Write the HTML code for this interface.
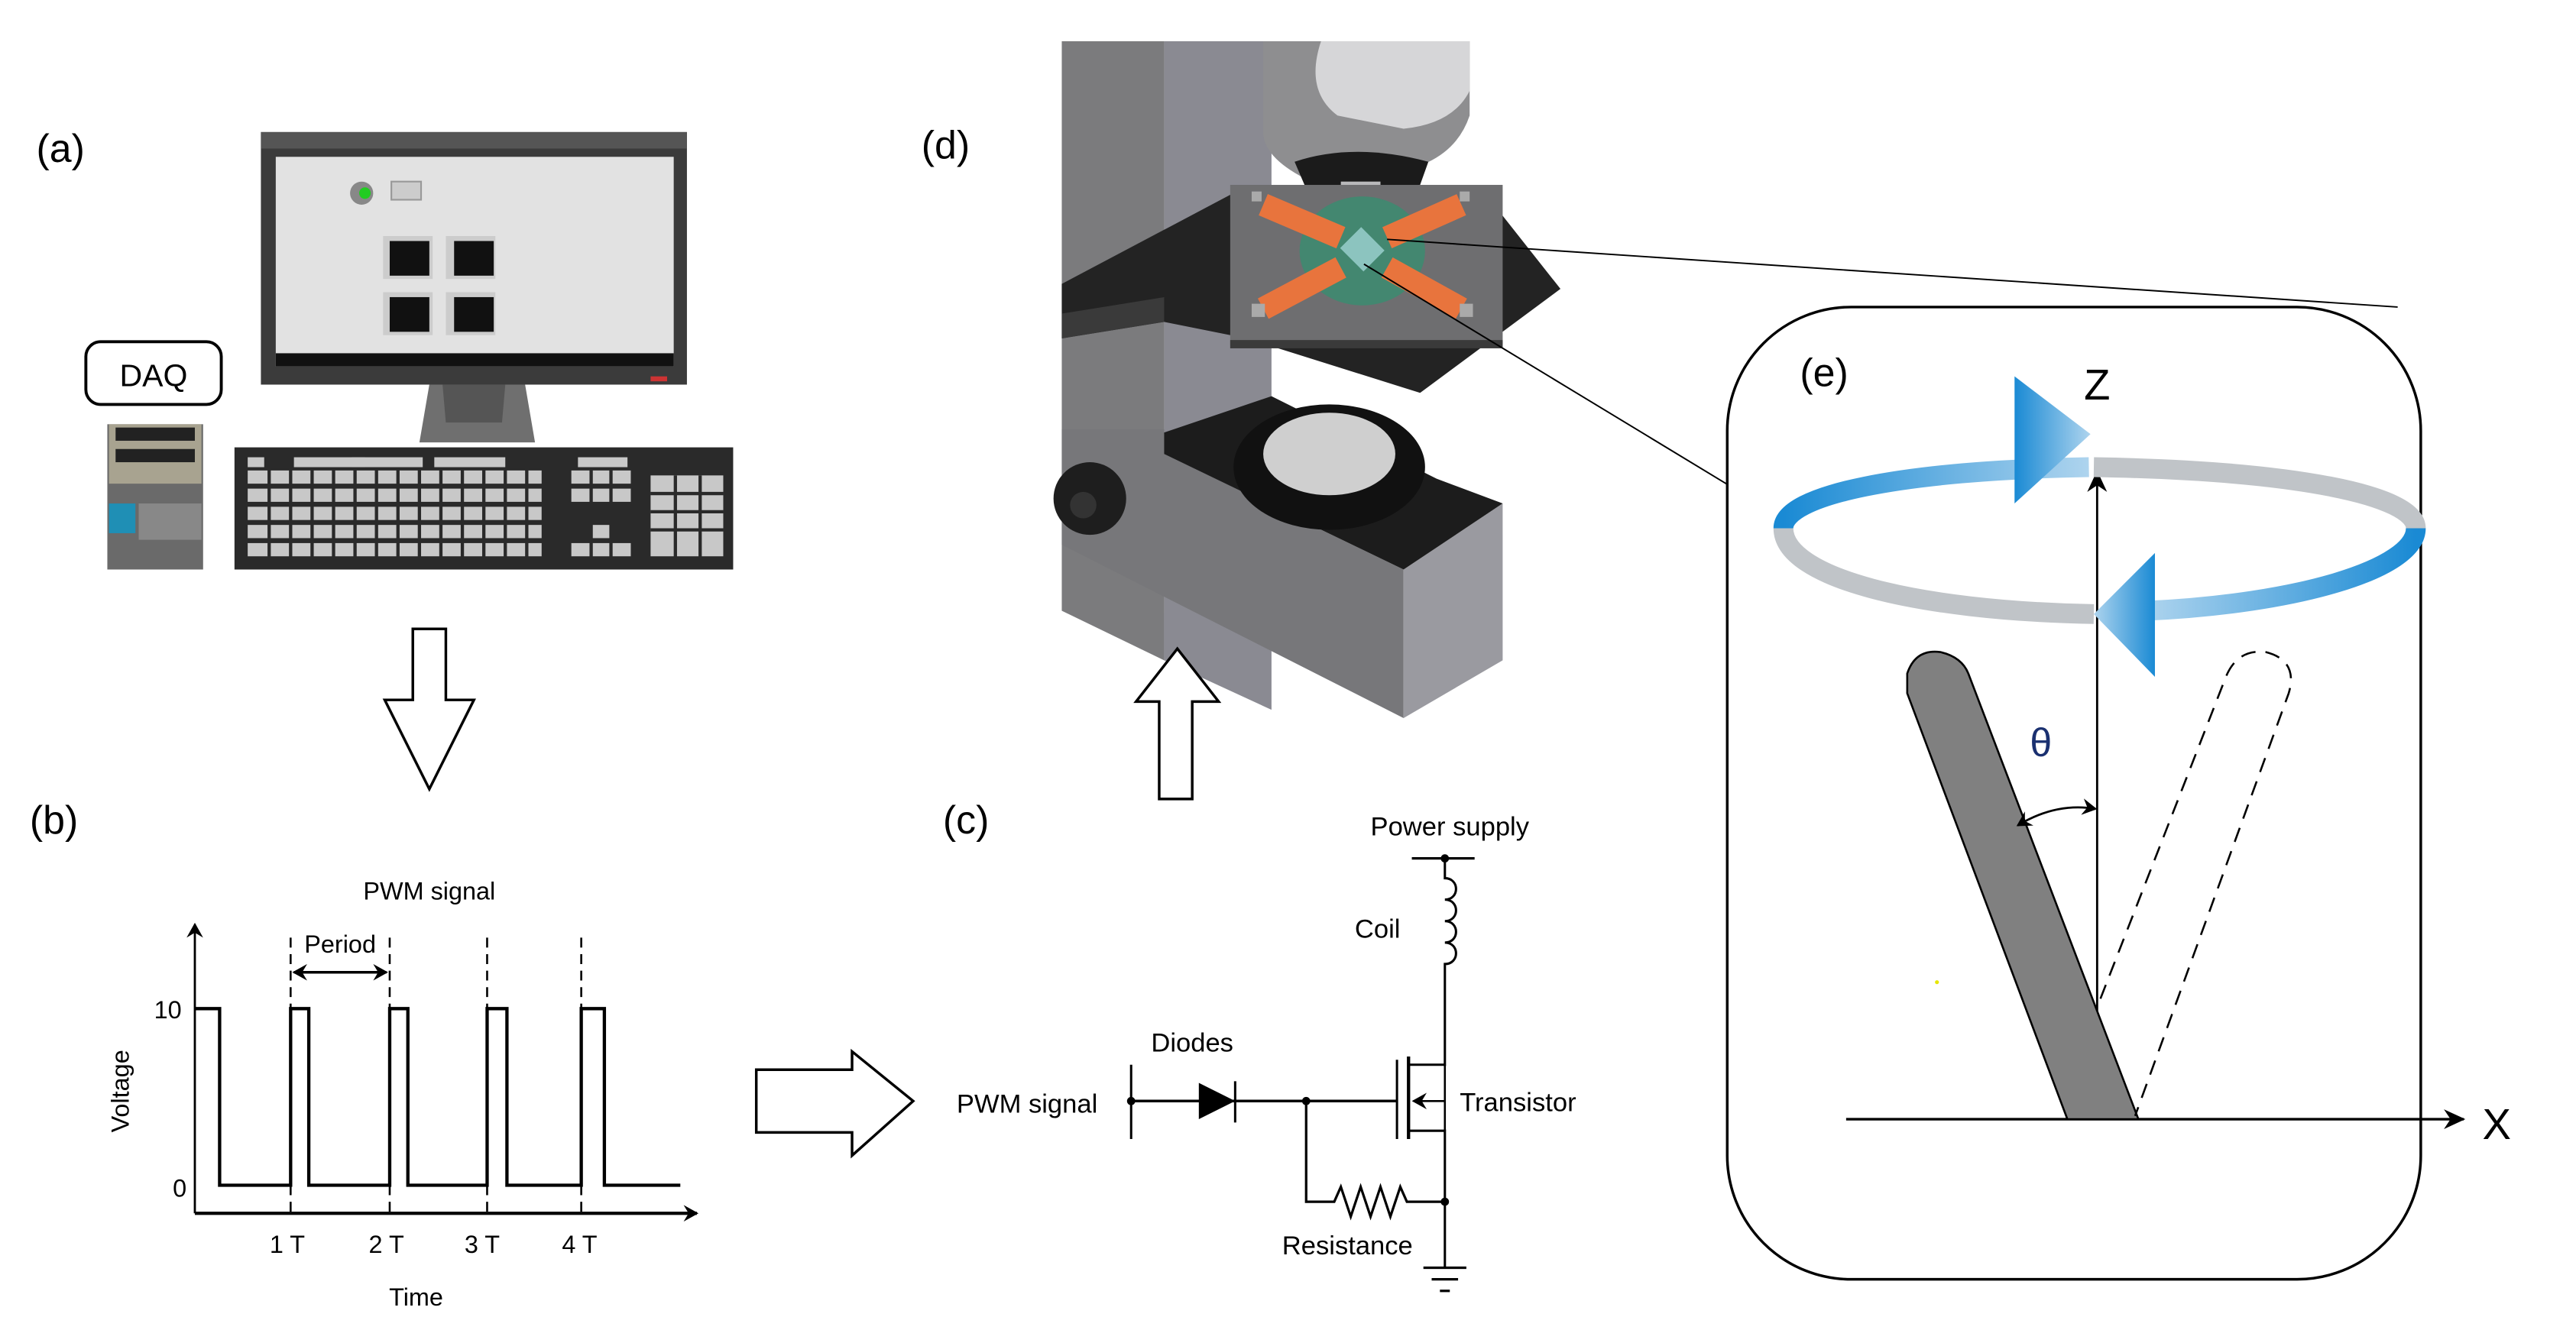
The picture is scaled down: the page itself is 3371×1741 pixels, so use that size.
<!DOCTYPE html>
<html><head><meta charset="utf-8"><style>
html,body{margin:0;padding:0;background:#fff;}
svg{display:block;}
text{font-family:"Liberation Sans",Arial,sans-serif;}
</style></head><body>
<svg width="3371" height="1741" viewBox="0 0 1560 805.7" preserveAspectRatio="none" xmlns="http://www.w3.org/2000/svg">
<defs>
<linearGradient id="bl1" x1="0" x2="1"><stop offset="0" stop-color="#1a8ad4"/><stop offset="1" stop-color="#aed4ee"/></linearGradient>
<linearGradient id="bl2" x1="1" x2="0"><stop offset="0" stop-color="#1a8ad4"/><stop offset="1" stop-color="#aed4ee"/></linearGradient>
<marker id="ah" markerWidth="10" markerHeight="10" refX="8" refY="5" orient="auto-start-reverse" markerUnits="userSpaceOnUse"><path d="M0,0 L9,5 L0,10 L3,5 Z" fill="#000"/></marker>
<marker id="ah2" markerWidth="14" markerHeight="12" refX="12" refY="6" orient="auto" markerUnits="userSpaceOnUse"><path d="M0,0 L13,6 L0,12 L4,6 Z" fill="#000"/></marker>
</defs>

<!-- (a) -->
<text x="22" y="98" font-size="24">(a)</text>
<rect x="158" y="80" width="258" height="153" fill="#3b3b3b"/>
<rect x="158" y="80" width="258" height="10" fill="#555"/>
<rect x="167" y="95" width="241" height="127" fill="#e2e2e2"/>
<rect x="167" y="214" width="241" height="8" fill="#111"/>
<circle cx="219" cy="117" r="7" fill="#888"/><circle cx="221" cy="117" r="3.5" fill="#2c2"/>
<rect x="237" y="110" width="18" height="11" fill="#ccc" stroke="#999"/>
<rect x="232" y="143" width="30" height="26" fill="#ccc"/><rect x="236" y="146" width="24" height="21" fill="#111"/>
<rect x="270" y="143" width="30" height="26" fill="#ccc"/><rect x="275" y="146" width="24" height="21" fill="#111"/>
<rect x="232" y="177" width="30" height="26" fill="#ccc"/><rect x="236" y="180" width="24" height="21" fill="#111"/>
<rect x="270" y="177" width="30" height="26" fill="#ccc"/><rect x="275" y="180" width="24" height="21" fill="#111"/>
<rect x="394" y="228" width="10" height="3" fill="#c33"/>
<path d="M260,233 L318,233 L324,268 L254,268 Z" fill="#6f6f6f"/>
<path d="M268,233 L306,233 L304,256 L270,256 Z" fill="#555"/>
<rect x="142" y="271" width="302" height="74" fill="#2a2a2a"/>
<g fill="#c8c8c8">
<rect x="150" y="277" width="10" height="6"/>
<rect x="178" y="277" width="43" height="6"/>
<rect x="213" y="277" width="43" height="6"/><rect x="263" y="277" width="43" height="6"/>
<rect x="350" y="277" width="30" height="6"/>
</g>
<g fill="#c8c8c8">
<rect x="150" y="285" width="178" height="8"/>
<rect x="150" y="296" width="178" height="8"/>
<rect x="150" y="307" width="178" height="8"/>
<rect x="150" y="318" width="178" height="8"/>
<rect x="150" y="329" width="178" height="8"/>
<rect x="346" y="285" width="36" height="8"/><rect x="346" y="296" width="36" height="8"/>
<rect x="358" y="318" width="12" height="8"/><rect x="346" y="329" width="36" height="8"/>
<rect x="394" y="288" width="44" height="49"/>
</g>
<g stroke="#2a2a2a" stroke-width="2">
<path d="M163,284 V338 M176,284 V338 M189,284 V338 M202,284 V338 M215,284 V338 M228,284 V338 M241,284 V338 M254,284 V338 M267,284 V338 M280,284 V338 M293,284 V338 M306,284 V338 M319,284 V338 M358,284 V338 M370,284 V338 M409,288 V338 M424,288 V338"/>
<path d="M394,299 H438 M394,310 H438 M394,321 H438"/>
</g>
<rect x="52" y="207" width="82" height="38" rx="9" fill="#fff" stroke="#000" stroke-width="1.8"/>
<text x="93" y="234" font-size="19" text-anchor="middle">DAQ</text>
<rect x="65" y="257" width="58" height="88" fill="#6a6a6a"/>
<rect x="66" y="257" width="56" height="36" fill="#a8a390"/>
<rect x="70" y="259" width="48" height="8" fill="#222"/><rect x="70" y="272" width="48" height="8" fill="#222"/>
<rect x="66" y="305" width="16" height="18" fill="#1f8fb5"/>
<rect x="84" y="305" width="38" height="22" fill="#888"/>

<!-- down arrow -->
<path d="M250,381 H270 V424 H287 L260,478 L233,424 H250 Z" fill="#fff" stroke="#000" stroke-width="1.6"/>

<!-- (b) -->
<text x="18" y="505" font-size="24">(b)</text>
<text x="260" y="545" font-size="15" text-anchor="middle">PWM signal</text>
<line x1="118" y1="735" x2="118" y2="560" stroke="#000" stroke-width="1.3" marker-end="url(#ah)"/>
<line x1="118" y1="735" x2="422" y2="735" stroke="#000" stroke-width="2" marker-end="url(#ah)"/>
<text x="72" y="655" font-size="15" text-anchor="middle" transform="rotate(-90 78 655)">Voltage</text>
<text x="110" y="617" font-size="15" text-anchor="end">10</text>
<text x="113" y="725" font-size="15" text-anchor="end">0</text>
<path d="M118,611 H133 V718 H176 V611 H187 V718 H236 V611 H247 V718 H295 V611 H307 V718 H352 V611 H366 V718 H412" fill="none" stroke="#000" stroke-width="2"/>
<g stroke="#000" stroke-width="1.2" stroke-dasharray="6,4">
<line x1="176" y1="568" x2="176" y2="735"/><line x1="236" y1="568" x2="236" y2="735"/>
<line x1="295" y1="568" x2="295" y2="735"/><line x1="352" y1="568" x2="352" y2="735"/>
</g>
<line x1="178" y1="589" x2="234" y2="589" stroke="#000" stroke-width="1.6" marker-end="url(#ah)" marker-start="url(#ah)"/>
<text x="206" y="577" font-size="15" text-anchor="middle">Period</text>
<text x="174" y="759" font-size="15" text-anchor="middle">1 T</text>
<text x="234" y="759" font-size="15" text-anchor="middle">2 T</text>
<text x="292" y="759" font-size="15" text-anchor="middle">3 T</text>
<text x="351" y="759" font-size="15" text-anchor="middle">4 T</text>
<text x="252" y="791" font-size="15" text-anchor="middle">Time</text>

<!-- right arrow -->
<path d="M458,648 H516 V637 L553,667 L516,700 V686 H458 Z" fill="#fff" stroke="#000" stroke-width="1.6"/>

<!-- (c) -->
<text x="571" y="505" font-size="24">(c)</text>
<text x="878" y="506" font-size="16" text-anchor="middle">Power supply</text>
<line x1="855" y1="520" x2="893" y2="520" stroke="#000" stroke-width="1.5"/>
<circle cx="875" cy="520" r="2.5"/>
<path d="M875,520 V532 c9,0 9,13 0,13 c9,0 9,13 0,13 c9,0 9,13 0,13 c9,0 9,13 0,13 V645 H853" fill="none" stroke="#000" stroke-width="1.4"/>
<text x="848" y="568" font-size="16" text-anchor="end">Coil</text>
<line x1="853" y1="640" x2="853" y2="690" stroke="#000" stroke-width="2"/>
<line x1="846" y1="642" x2="846" y2="690" stroke="#000" stroke-width="1.4"/>
<path d="M853,685 H875 V768" fill="none" stroke="#000" stroke-width="1.4"/>
<line x1="875" y1="667" x2="856" y2="667" stroke="#000" stroke-width="1.2" marker-end="url(#ah)"/>
<line x1="875" y1="645" x2="875" y2="685" stroke="#000" stroke-width="1.2"/>
<text x="884" y="673" font-size="16">Transistor</text>
<line x1="685" y1="645" x2="685" y2="690" stroke="#000" stroke-width="1.4"/>
<circle cx="685" cy="667" r="2.5"/>
<line x1="685" y1="667" x2="846" y2="667" stroke="#000" stroke-width="1.6"/>
<path d="M726,656 L748,667 L726,678 Z" fill="#000"/>
<line x1="748" y1="655" x2="748" y2="680" stroke="#000" stroke-width="1.4"/>
<text x="722" y="637" font-size="16" text-anchor="middle">Diodes</text>
<text x="622" y="674" font-size="16" text-anchor="middle">PWM signal</text>
<circle cx="791" cy="667" r="2.5"/>
<path d="M791,667 V728 H808 l4,-9 l6,18 l6,-18 l6,18 l6,-18 l6,18 l6,-18 l4,9 H875" fill="none" stroke="#000" stroke-width="1.5"/>
<circle cx="875" cy="728" r="2.5"/>
<text x="816" y="760" font-size="16" text-anchor="middle">Resistance</text>
<g stroke="#000" stroke-width="1.5"><line x1="862" y1="768" x2="888" y2="768"/><line x1="867" y1="775" x2="883" y2="775"/><line x1="872" y1="782" x2="878" y2="782"/></g>

<!-- (d) microscope -->
<text x="558" y="96" font-size="24">(d)</text>
<path d="M643,25 H705 V400 L643,370 Z" fill="#7b7b7d"/>
<path d="M705,25 H770 V430 L705,400 Z" fill="#8a8a92"/>
<path d="M765,25 H890 V70 Q880,100 840,105 L790,108 Q765,95 765,80 Z" fill="#8e8e90"/>
<path d="M800,25 H890 V55 Q880,75 850,78 L810,70 Q790,55 800,25 Z" fill="#d6d6d8"/>
<path d="M784,98 Q820,86 865,98 L860,112 Q820,118 790,112 Z" fill="#1b1b1b"/>
<rect x="812" y="110" width="24" height="22" fill="#b9b9bb"/>
<line x1="812" y1="126" x2="836" y2="126" stroke="#2a3a9a" stroke-width="1.5"/>
<path d="M643,172 L745,118 L900,118 L945,175 L860,238 L755,205 L705,195 L643,205 Z" fill="#232323"/>
<path d="M643,190 L705,180 L705,195 L643,205 Z" fill="#3a3a3a"/>
<rect x="745" y="112" width="165" height="97" fill="#6e6e70"/>
<rect x="745" y="206" width="165" height="5" fill="#3a3a3a"/>
<ellipse cx="825" cy="152" rx="38" ry="33" fill="#3e8a70" opacity="0.9"/>
<g stroke="#e8743d" stroke-width="14" stroke-linecap="butt">
<line x1="765" y1="124" x2="812" y2="144"/><line x1="885" y1="124" x2="840" y2="144"/>
<line x1="765" y1="187" x2="812" y2="162"/><line x1="885" y1="187" x2="840" y2="162"/>
</g>
<g fill="#aaa"><rect x="758" y="184" width="8" height="8"/><rect x="884" y="184" width="8" height="8"/><rect x="758" y="116" width="6" height="6"/><rect x="884" y="116" width="6" height="6"/></g>
<rect x="815" y="142" width="20" height="18" fill="#8cc4bf" transform="rotate(45 825 151)"/>
<path d="M643,330 L850,435 L850,345 L705,275 L705,260 L643,260 Z" fill="#77777a"/>
<path d="M850,345 L910,305 L910,400 L850,435 Z" fill="#9a9aa0"/>
<path d="M705,262 L770,240 L870,290 L910,305 L850,345 L705,275 Z" fill="#1c1c1c"/>
<ellipse cx="805" cy="283" rx="58" ry="38" fill="#111"/>
<ellipse cx="805" cy="275" rx="40" ry="25" fill="#cfcfcf"/>
<circle cx="660" cy="302" r="22" fill="#1e1e1e"/>
<circle cx="656" cy="306" r="8" fill="#333"/>
<path d="M702,484 V425 H688 L713,393 L738,425 H722 V484 Z" fill="#fff" stroke="#000" stroke-width="1.6"/>
<line x1="840" y1="145" x2="1452" y2="186" stroke="#000" stroke-width="0.9"/>
<line x1="826" y1="160" x2="1047" y2="294" stroke="#000" stroke-width="0.9"/>

<!-- (e) -->
<rect x="1046" y="186" width="420" height="589" rx="75" fill="#fff" stroke="#000" stroke-width="1.6"/>
<text x="1090" y="234" font-size="24">(e)</text>
<text x="1270" y="242" font-size="26" text-anchor="middle">Z</text>
<line x1="1270" y1="678" x2="1270" y2="286" stroke="#000" stroke-width="1.3" marker-end="url(#ah2)"/>
<line x1="1118" y1="678" x2="1492" y2="678" stroke="#000" stroke-width="1.6" marker-end="url(#ah2)"/>
<text x="1512" y="690" font-size="26" text-anchor="middle">X</text>
<path d="M1265,283 C1150,285 1080,300 1080,320" fill="none" stroke="url(#bl1)" stroke-width="12"/>
<path d="M1080,320 C1080,350 1160,370 1268,372" fill="none" stroke="#c0c4c8" stroke-width="12"/>
<path d="M1268,283 C1390,285 1463,300 1463,320" fill="none" stroke="#c0c4c8" stroke-width="12"/>
<path d="M1463,320 C1463,345 1390,366 1300,370" fill="none" stroke="url(#bl2)" stroke-width="12"/>
<path d="M1220,228 L1266,263 L1220,305 Z" fill="url(#bl1)"/>
<path d="M1305,335 L1268,372 L1305,410 Z" fill="url(#bl2)"/>
<path d="M1155,408 Q1160,393 1175,395 Q1188,398 1192,408 L1295,678 H1252 L1155,420 Z" fill="#808080" stroke="#000" stroke-width="1.2"/>
<path d="M1272,605 L1348,410 Q1355,393 1372,395 Q1392,400 1386,420 L1293,676" fill="none" stroke="#000" stroke-width="1.2" stroke-dasharray="9,6"/>
<text x="1236" y="458" font-size="24" fill="#1a3070" text-anchor="middle">θ</text>
<path d="M1222,500 Q1245,486 1269,490" fill="none" stroke="#000" stroke-width="1.3" marker-end="url(#ah)" marker-start="url(#ah)"/>
<circle cx="1173" cy="595" r="1.2" fill="#e6e600"/>
</svg>
</body></html>
